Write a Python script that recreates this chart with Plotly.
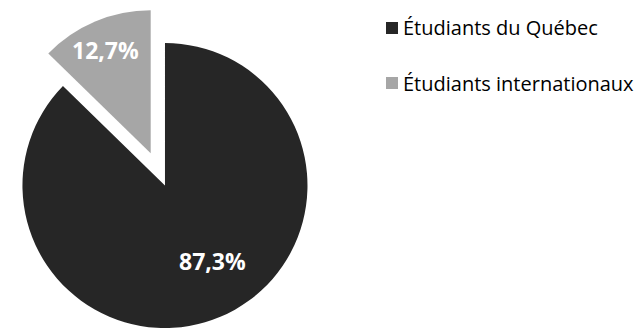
import plotly.graph_objects as go

labels = ["Étudiants du Québec", "Étudiants internationaux"]
values = [87.3, 12.7]
colors = ["#262626", "#a6a6a6"]

pct_text = [f"{v:.1f}%".replace(".", ",") for v in values]
clear = "rgba(0,0,0,0)"
W, H = 635, 328

fig = go.Figure()

# main slice (Québec), drawn in place
fig.add_trace(go.Pie(
    labels=labels, values=values, sort=False, direction="clockwise", rotation=0,
    marker=dict(colors=[colors[0], clear], line=dict(width=0)),
    textinfo="none", domain=dict(x=[0.0346, 0.4850], y=[0.0, 0.869]),
    showlegend=False, hoverinfo="label+percent",
))

# exploded slice (internationaux), shifted out along its mid-angle
fig.add_trace(go.Pie(
    labels=labels, values=values, sort=False, direction="clockwise", rotation=0,
    marker=dict(colors=[clear, colors[1]], line=dict(width=0)),
    textinfo="none", domain=dict(x=[0.0121, 0.4625], y=[0.0966, 0.9686]),
    showlegend=False, hoverinfo="label+percent",
))

# percentage labels
label_pos = [(212, 261), (105, 50)]
for txt, (px, py) in zip(pct_text, label_pos):
    fig.add_annotation(text=txt, xref="paper", yref="paper", x=px / W, y=1 - py / H,
                       xanchor="center", yanchor="middle", showarrow=False,
                       font=dict(family="Open Sans", size=23, color="white", weight="bold"))

# legend drawn by hand (square + label)
legend_y = [28, 83]
for lab, col, ly in zip(labels, colors, legend_y):
    fig.add_shape(type="rect", xref="paper", yref="paper",
                  x0=386 / W, x1=398 / W, y0=1 - (ly + 6) / H, y1=1 - (ly - 6) / H,
                  fillcolor=col, line=dict(width=0))
    fig.add_annotation(text=lab, xref="paper", yref="paper", x=401 / W, y=1 - ly / H,
                       xanchor="left", yanchor="middle", showarrow=False,
                       font=dict(family="Open Sans", size=20, color="#000000"))

fig.update_layout(
    width=W, height=H,
    margin=dict(l=0, r=0, t=0, b=0),
    paper_bgcolor="white", plot_bgcolor="white",
)

fig.write_html("out.html", config={"displayModeBar": False},
               post_script="document.body.style.margin='0';")
